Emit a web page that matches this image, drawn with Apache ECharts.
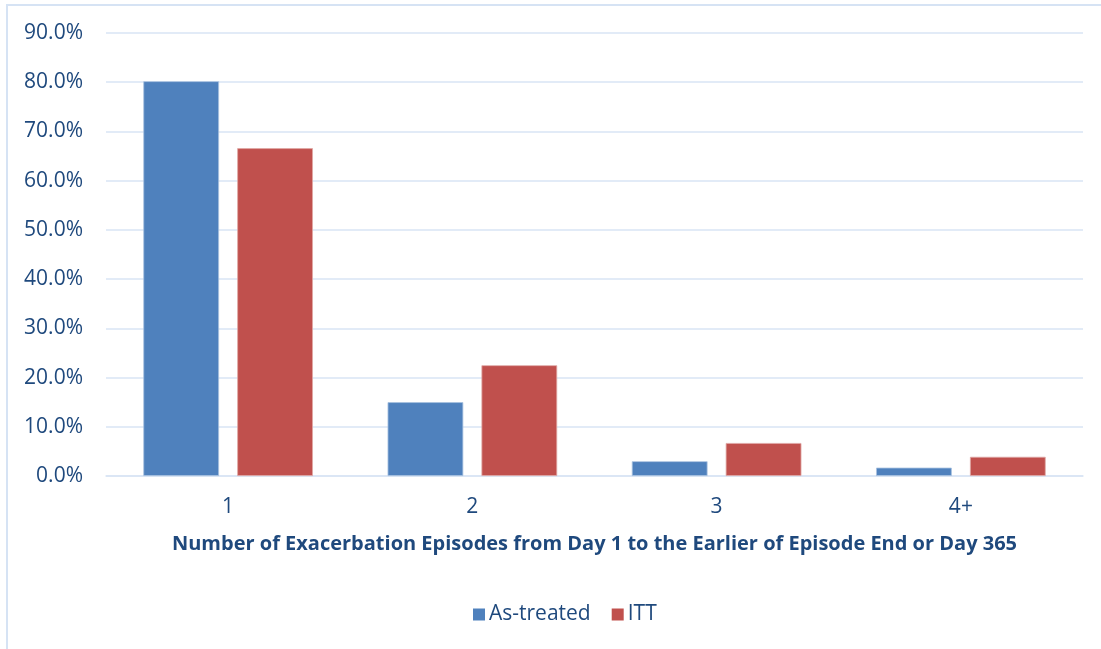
<!DOCTYPE html>
<html>
<head>
<meta charset="utf-8">
<script src="https://cdn.jsdelivr.net/npm/echarts@6/dist/echarts.min.js"></script>
<style>
  html, body { margin: 0; padding: 0; background: #fff; }
  #chart { width: 1101px; height: 649px; }
</style>
</head>
<body>
<div id="chart"></div>
<script>
// Share of patients by number of exacerbation episodes
const categories = ['1', '2', '3', '4+'];
const asTreated = [80.2, 15.0, 3.0, 1.7];
const itt = [66.6, 22.5, 6.7, 3.9];
const seriesNames = ['As-treated', 'ITT'];
const xAxisTitle = 'Number of Exacerbation Episodes from Day 1 to the Earlier of Episode End or Day 365';

const textColor = '#1f497d';
const gridColor = '#d9e5f5';
const fontFamily = '"Open Sans", "Noto Sans", sans-serif';

const chart = echarts.init(document.getElementById('chart'), null, { renderer: 'canvas' });

chart.setOption({
  animation: false,
  backgroundColor: '#ffffff',
  textStyle: { fontFamily: fontFamily },
  graphic: [{
    type: 'rect',
    shape: { x: 7, y: 5, width: 1200, height: 700 },
    style: { fill: 'none', stroke: '#d6e3f4', lineWidth: 2 },
    silent: true
  }],
  grid: { left: 106, right: 18, top: 33, bottom: 173 },
  legend: {
    data: seriesNames,
    left: 468,
    top: 599,
    itemWidth: 12,
    itemHeight: 12,
    itemGap: 21,
    icon: 'rect',
    itemStyle: { borderWidth: 0 },
    textStyle: { color: textColor, fontSize: 21, fontFamily: fontFamily, padding: [0, 0, 0, -1] }
  },
  xAxis: {
    type: 'category',
    data: categories,
    name: xAxisTitle,
    nameLocation: 'middle',
    nameGap: 58,
    nameTextStyle: { color: textColor, fontSize: 20, fontWeight: 'bold', fontFamily: fontFamily },
    axisLine: { show: true, lineStyle: { color: gridColor, width: 1.5 } },
    axisTick: { show: false },
    axisLabel: { color: textColor, fontSize: 21, margin: 21, fontFamily: fontFamily }
  },
  yAxis: {
    type: 'value',
    min: 0,
    max: 90,
    interval: 10,
    axisLine: { show: false },
    axisTick: { show: false },
    splitLine: { lineStyle: { color: gridColor, width: 1.5 } },
    axisLabel: {
      color: textColor,
      fontSize: 21,
      margin: 23,
      fontFamily: fontFamily,
      formatter: v => v.toFixed(1) + '%'
    }
  },
  series: [
    {
      name: seriesNames[0],
      type: 'bar',
      data: asTreated,
      barWidth: '31%',
      barGap: '24%',
      itemStyle: { color: '#4f81bd', borderColor: '#a8c1e0', borderWidth: 0.8 }
    },
    {
      name: seriesNames[1],
      type: 'bar',
      data: itt,
      barWidth: '31%',
      itemStyle: { color: '#c0504d', borderColor: '#e0a8a6', borderWidth: 0.8 }
    }
  ]
});
</script>
</body>
</html>
